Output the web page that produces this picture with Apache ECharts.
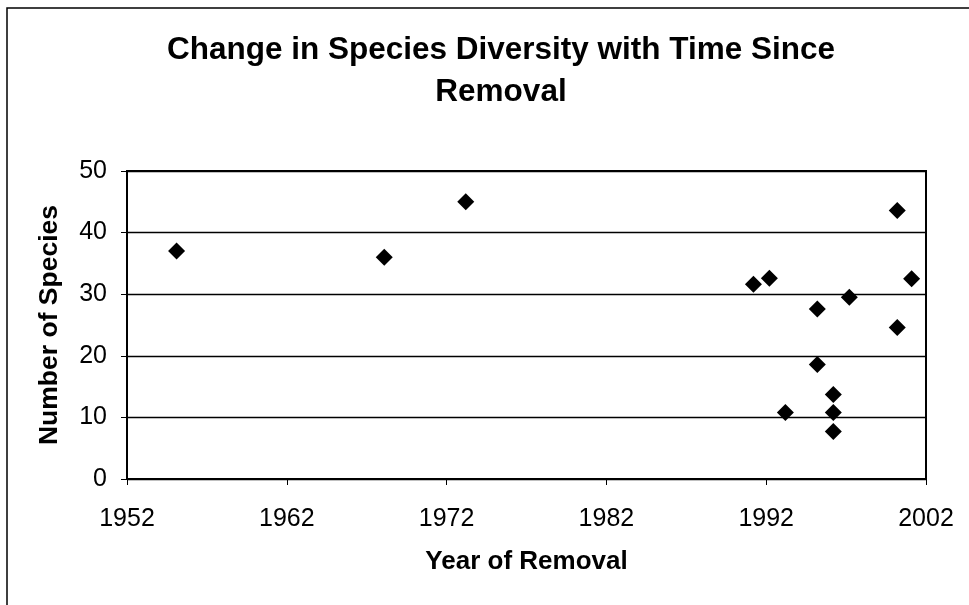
<!DOCTYPE html>
<html>
<head>
<meta charset="utf-8">
<script src="https://cdn.jsdelivr.net/npm/echarts@6/dist/echarts.min.js"></script>
<style>
  html, body { margin: 0; padding: 0; background: #fff; }
  #chart { width: 969px; height: 605px; }
</style>
</head>
<body>
<div id="chart"></div>
<script>
// years of removal and species counts
const years = [1955.1, 1968.1, 1973.2, 1991.2, 1992.2, 1993.2, 1995.2, 1995.2, 1996.2, 1996.2, 1996.2, 1997.2, 2000.2, 2000.2, 2001.1];
const species = [37, 36, 45, 31.6, 32.6, 10.8, 27.6, 18.6, 13.7, 10.8, 7.7, 29.5, 43.6, 24.6, 32.5];

const xMin = 1952, xMax = 2002, xStep = 10;
const yMin = 0, yMax = 50, yStep = 10;

const font = 'Liberation Sans, Arial, sans-serif';

const chart = echarts.init(document.getElementById('chart'));

chart.setOption({
  backgroundColor: '#fff',
  animation: false,
  title: {
    text: 'Change in Species Diversity with Time Since\nRemoval',
    left: 496,
    textAlign: 'center',
    top: 24,
    textStyle: { fontFamily: font, fontSize: 31.5, fontWeight: 'bold', color: '#000', lineHeight: 42 }
  },
  graphic: [{
    type: 'polyline',
    shape: { points: [[7, 605], [7, 8], [969, 8]] },
    style: { stroke: '#000', lineWidth: 1.5, fill: null }
  }],
  grid: {
    left: 127, right: 43, top: 171, bottom: 126,
    show: true, borderColor: '#000', borderWidth: 2
  },
  xAxis: {
    type: 'value',
    min: xMin, max: xMax, interval: xStep,
    name: 'Year of Removal',
    nameLocation: 'middle',
    nameGap: 70,
    nameTextStyle: { fontFamily: font, fontSize: 26, fontWeight: 'bold', color: '#000' },
    axisLine: { lineStyle: { color: '#000', width: 2 } },
    axisTick: { show: true, inside: false, length: 6, lineStyle: { color: '#000' } },
    axisLabel: { fontFamily: font, fontSize: 25, color: '#000', margin: 28, formatter: v => String(v) },
    splitLine: { show: false }
  },
  yAxis: {
    type: 'value',
    min: yMin, max: yMax, interval: yStep,
    name: 'Number of Species',
    nameLocation: 'middle',
    nameRotate: 90,
    nameGap: 64,
    nameTextStyle: { fontFamily: font, fontSize: 26.5, fontWeight: 'bold', color: '#000' },
    axisLine: { show: true, lineStyle: { color: '#000', width: 2 } },
    axisTick: { show: true, inside: false, length: 6, lineStyle: { color: '#000' } },
    axisLabel: { fontFamily: font, fontSize: 25, color: '#000', margin: 20 },
    splitLine: { show: true, lineStyle: { color: '#000', width: 1.3 } }
  },
  series: [{
    type: 'scatter',
    symbol: 'diamond',
    symbolSize: 17,
    itemStyle: { color: '#000', opacity: 1 },
    data: years.map((y, i) => [y, species[i]])
  }]
});
</script>
</body>
</html>
